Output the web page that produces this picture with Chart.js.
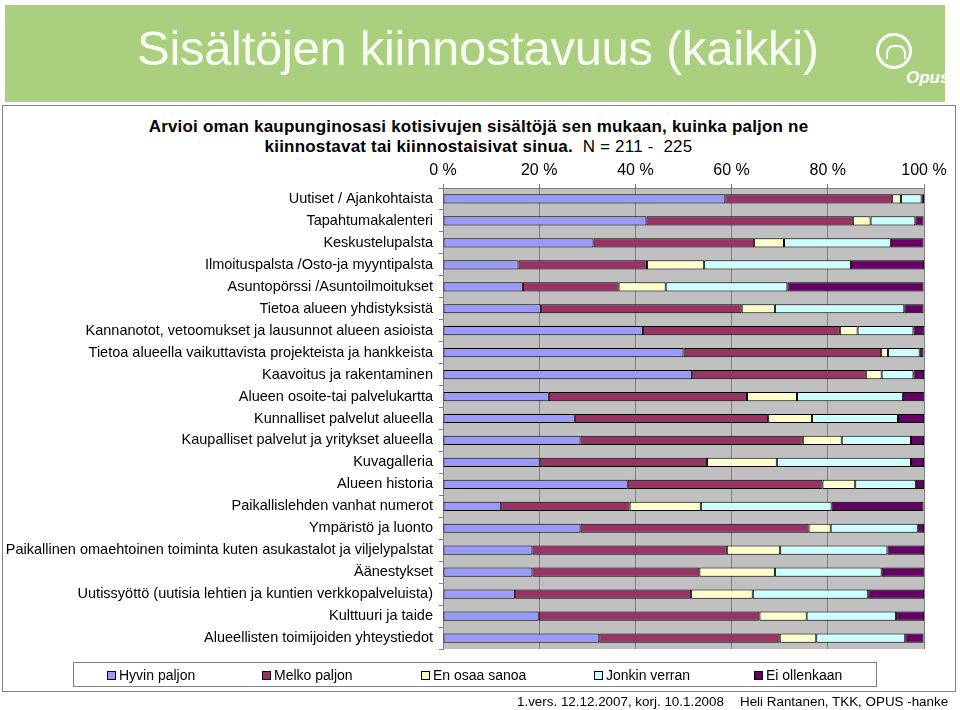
<!DOCTYPE html>
<html>
<head>
<meta charset="utf-8">
<script src="https://cdn.jsdelivr.net/npm/chart.js@4/dist/chart.umd.min.js"></script>
<style>
  html, body { margin:0; padding:0; background:#fff; }
  body { width:960px; height:710px; position:relative; overflow:hidden; font-family:"Liberation Sans", Arial, sans-serif; }
  #hdr { position:absolute; left:5px; top:5px; width:940px; height:97px; background:#A9CF7F; }
  #ttl { position:absolute; left:132px; top:15px; font-size:49px; color:#FAFFF4; white-space:nowrap; letter-spacing:-0.3px; }
  #logo { position:absolute; left:876px; top:33px; width:36px; height:36px; border:3px solid #fff; border-radius:50%; box-sizing:border-box; }
  #logo i { position:absolute; left:7px; top:9px; width:16px; height:12px; border:2px solid #fff; border-bottom:none; border-radius:8px 8px 0 0; }
  #opus { position:absolute; left:906px; top:68px; font-size:17px; font-weight:bold; font-style:italic; color:#fff; }
  #box { position:absolute; left:2px; top:105px; width:954px; height:587px; border:1px solid #808080; box-sizing:border-box; }
  #sub { position:absolute; left:2px; width:953px; top:117px; text-align:center; font-size:17px; line-height:20px; font-weight:bold; color:#000; letter-spacing:0.2px; }
  #sub span { font-weight:normal; }
  canvas { position:absolute; left:0; top:0; }
  #leg { position:absolute; left:73px; top:662px; width:804px; height:25px; border:1px solid #808080; box-sizing:border-box; }
  .li { position:absolute; top:4px; font-size:14px; white-space:nowrap; color:#000; }
  .li b { display:inline-block; width:7px; height:7px; border:1px solid #000; margin-right:3px; vertical-align:0px; }
  .ft { position:absolute; top:694px; font-size:13.4px; white-space:nowrap; }
</style>
</head>
<body>
<div id="hdr">
  <div id="ttl">Sisältöjen kiinnostavuus (kaikki)</div>
</div>
<div id="logo"><i></i></div>
<div id="opus">Opus</div>
<div id="box"></div>
<div id="sub">Arvioi oman kaupunginosasi kotisivujen sisältöjä sen mukaan, kuinka paljon ne<br>kiinnostavat tai kiinnostaisivat sinua. &nbsp;<span>N = 211 - &nbsp;225</span></div>
<canvas id="c" width="960" height="710"></canvas>
<div id="leg"></div>
<div class="ft" style="left:517px">1.vers. 12.12.2007, korj. 10.1.2008</div>
<div class="ft" style="left:740px">Heli Rantanen, TKK, OPUS -hanke</div>
<script>
const categories = [
  "Uutiset / Ajankohtaista",
  "Tapahtumakalenteri",
  "Keskustelupalsta",
  "Ilmoituspalsta /Osto-ja myyntipalsta",
  "Asuntopörssi /Asuntoilmoitukset",
  "Tietoa alueen yhdistyksistä",
  "Kannanotot, vetoomukset ja lausunnot alueen asioista",
  "Tietoa alueella vaikuttavista projekteista ja hankkeista",
  "Kaavoitus ja rakentaminen",
  "Alueen osoite-tai palvelukartta",
  "Kunnalliset palvelut alueella",
  "Kaupalliset palvelut ja yritykset alueella",
  "Kuvagalleria",
  "Alueen historia",
  "Paikallislehden vanhat numerot",
  "Ympäristö ja luonto",
  "Paikallinen omaehtoinen toiminta kuten asukastalot ja viljelypalstat",
  "Äänestykset",
  "Uutissyöttö (uutisia lehtien ja kuntien verkkopalveluista)",
  "Kulttuuri ja taide",
  "Alueellisten toimijoiden yhteystiedot"
];
const seriesNames = ["Hyvin paljon", "Melko paljon", "En osaa sanoa", "Jonkin verran", "Ei ollenkaan"];
const hyvinPaljon  = [58.7, 42.3, 31.3, 15.7, 16.6, 20.4, 41.6, 50.0, 51.8, 22.0, 27.4, 28.6, 20.1, 38.4, 12.1, 28.6, 18.6, 18.6, 15.0, 19.9, 32.5];
const melkoPaljon  = [34.7, 42.9, 33.4, 26.7, 19.9, 41.7, 40.9, 41.1, 36.1, 41.2, 40.2, 46.2, 34.8, 40.5, 26.7, 47.4, 40.4, 34.7, 36.6, 45.9, 37.5];
const enOsaaSanoa  = [1.8, 3.7, 6.2, 11.9, 9.8, 6.9, 3.7, 1.4, 3.3, 10.4, 9.1, 8.1, 14.5, 6.8, 14.8, 4.6, 11.1, 15.7, 12.8, 9.8, 7.6];
const jonkinVerran = [4.3, 9.3, 22.2, 30.5, 25.3, 26.9, 11.6, 6.6, 6.6, 22.0, 17.9, 14.4, 27.9, 12.6, 27.2, 18.1, 22.3, 22.2, 24.0, 18.6, 18.5];
const eiOllenkaan  = [0.5, 1.7, 6.8, 15.2, 28.3, 4.0, 2.3, 0.8, 2.2, 4.5, 5.4, 2.7, 2.7, 1.7, 19.1, 1.3, 7.6, 8.9, 11.6, 5.8, 3.8];
const xTicks = [0, 20, 40, 60, 80, 100];

const colors = ["#9999FF", "#993366", "#FFFFCC", "#CCFFFF", "#660066"];
const values = [hyvinPaljon, melkoPaljon, enOsaaSanoa, jonkinVerran, eiOllenkaan];

const PLOT = { left: 443, right: 924, top: 188, bottom: 649 };

const bgPlugin = {
  id: 'plotBg',
  beforeDraw(chart) {
    const a = chart.chartArea, ctx = chart.ctx;
    ctx.save();
    ctx.fillStyle = '#C0C0C0';
    ctx.fillRect(a.left, a.top, a.right - a.left, a.bottom - a.top);
    ctx.restore();
  }
};

const chart = new Chart(document.getElementById('c'), {
  type: 'bar',
  data: {
    labels: categories,
    datasets: seriesNames.map((n, i) => ({
      label: n,
      data: values[i],
      backgroundColor: colors[i],
      borderColor: '#000000',
      borderWidth: 1,
      borderSkipped: false,
      barPercentage: 0.42,
      categoryPercentage: 1.0
    }))
  },
  options: {
    indexAxis: 'y',
    responsive: false,
    animation: false,
    devicePixelRatio: 1,
    layout: { padding: { left: 3, right: 960 - PLOT.right, top: 140, bottom: 710 - PLOT.bottom } },
    plugins: { legend: { display: false }, title: { display: false }, tooltip: { enabled: false } },
    scales: {
      x: {
        position: 'top',
        stacked: true,
        min: 0, max: 100,
        afterBuildTicks(scale) { scale.ticks = xTicks.map(v => ({ value: v })); },
        afterFit(scale) { scale.height = PLOT.top - 140; },
        ticks: {
          callback: v => v + ' %',
          color: '#000',
          font: { family: 'Liberation Sans', size: 16 },
          padding: 4,
          maxRotation: 0
        },
        grid: { color: '#808080', lineWidth: 1, tickLength: 4, drawTicks: true },
        border: { color: '#808080', width: 1 }
      },
      y: {
        stacked: true,
        afterFit(scale) { scale.width = PLOT.left - 3; },
        ticks: {
          color: '#000',
          font: { family: 'Liberation Sans', size: 14.5 },
          padding: 6,
          autoSkip: false
        },
        grid: { drawOnChartArea: false, color: '#808080', tickLength: 4, offset: true },
        border: { color: '#808080', width: 1 }
      }
    }
  },
  plugins: [bgPlugin]
});

// legend built from the chart's datasets
const legPos = [107, 262, 421, 594, 754];
const leg = document.getElementById('leg');
chart.data.datasets.forEach((ds, i) => {
  const d = document.createElement('div');
  d.className = 'li';
  d.style.left = (legPos[i] - 73 - 1) + 'px';
  d.innerHTML = '<b style="background:' + ds.backgroundColor + '"></b>' + ds.label;
  leg.appendChild(d);
});
</script>
</body>
</html>
